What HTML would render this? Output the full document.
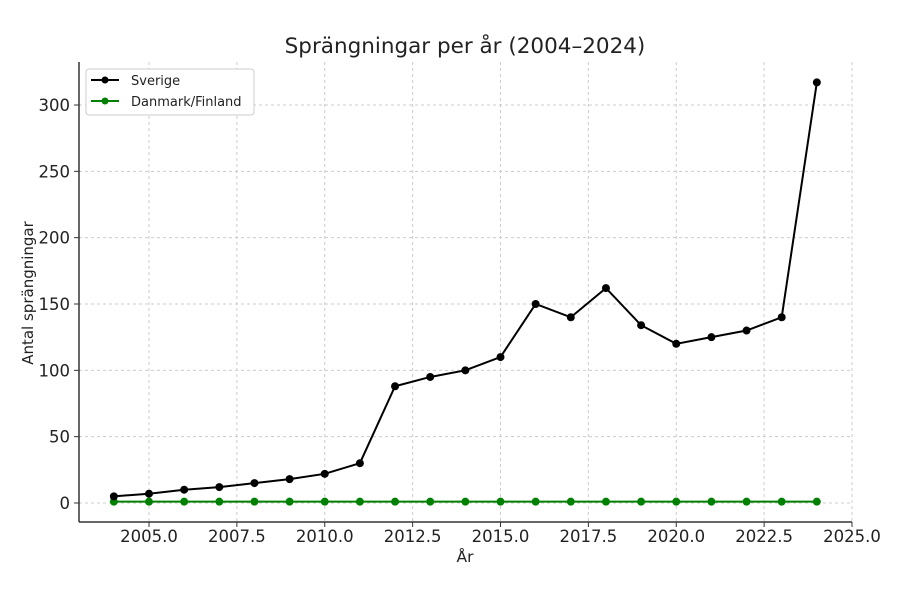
<!DOCTYPE html>
<html><head><meta charset="utf-8"><style>
body{margin:0;background:#fff;}
svg text{font-family:"DejaVu Sans","Liberation Sans",sans-serif;fill:#222;}
</style></head><body>
<svg width="900" height="585" viewBox="0 0 900 585" id="chart">
<text x="465" y="53" font-size="21.5" text-anchor="middle">Sprängningar per år (2004–2024)</text>
<g id="grid"></g>
<g id="axes"></g>
<g id="series"></g>
<text x="465" y="562" font-size="15.5" text-anchor="middle">År</text>
<text transform="translate(33,293) rotate(-90)" font-size="15" text-anchor="middle">Antal sprängningar</text>
<g>
<rect x="86" y="69" width="168" height="46" rx="3" fill="#fff" stroke="#ccc"/>
<g>
<line x1="91" y1="80" x2="119" y2="80" stroke="#000" stroke-width="2"/><circle cx="105" cy="80" r="3.5" fill="#000"/>
<text x="131" y="85" font-size="13">Sverige</text></g>
<g>
<line x1="91" y1="101" x2="119" y2="101" stroke="green" stroke-width="2"/><circle cx="105" cy="101" r="3.5" fill="green"/>
<text x="131" y="106" font-size="13">Danmark/Finland</text></g>
</g>
</svg>
<script>
const years=[2004,2005,2006,2007,2008,2009,2010,2011,2012,2013,2014,2015,2016,2017,2018,2019,2020,2021,2022,2023,2024];
const sverige=[5,7,10,12,15,18,22,30,88,95,100,110,150,140,162,134,120,125,130,140,317];
const danmarkFinland=[1,1,1,1,1,1,1,1,1,1,1,1,1,1,1,1,1,1,1,1,1];
const xTicks=[2005,2007.5,2010,2012.5,2015,2017.5,2020,2022.5,2025];
const yTicks=[0,50,100,150,200,250,300];
const NS="http://www.w3.org/2000/svg";
const X=v=>149+(v-2005)*35.15;
const Y=v=>503-v*1.3267;
const L=79,B=522,T=62,R=852;
function mk(tag,attrs,parent){const e=document.createElementNS(NS,tag);for(const k in attrs)e.setAttribute(k,attrs[k]);document.getElementById(parent).appendChild(e);return e;}
xTicks.forEach(t=>{
 const g=mk('line',{x1:X(t),x2:X(t),y1:T,y2:B,stroke:'#ccc','stroke-dasharray':'3,3'},'grid');
 
 
 const tk=mk('line',{x1:X(t),x2:X(t),y1:B,y2:B+5,stroke:'#333'},'axes');
 
 
 const tx=mk('text',{x:X(t),y:B+20,'font-size':16.5,'text-anchor':'middle'},'axes');
 tx.textContent=t.toFixed(1);
 
 
});
yTicks.forEach(t=>{
 const g=mk('line',{x1:L,x2:R,y1:Y(t),y2:Y(t),stroke:'#ccc','stroke-dasharray':'3,3'},'grid');
 
 
 const tk=mk('line',{x1:L-5,x2:L,y1:Y(t),y2:Y(t),stroke:'#333'},'axes');
 
 
 const tx=mk('text',{x:L-9,y:Y(t)+6,'font-size':16.5,'text-anchor':'end'},'axes');
 tx.textContent=t;
 
 
});
const sp1=mk('line',{x1:L,x2:L,y1:T,y2:B,stroke:'#333','stroke-width':1.5},'axes');


const sp2=mk('line',{x1:L,x2:R,y1:B,y2:B,stroke:'#333','stroke-width':1.5},'axes');


function series(vals,color,name){
 const p=mk('polyline',{points:vals.map((v,i)=>X(years[i])+','+Y(v)).join(' '),fill:'none',stroke:color,'stroke-width':2},'series');
 
 
 vals.forEach((v,i)=>{
  const c=mk('circle',{cx:X(years[i]),cy:Y(v),r:4,fill:color},'series');
  
  
 });
}
series(danmarkFinland,'green','danmark-finland');
series(sverige,'#000','sverige');
</script>
</body></html>
